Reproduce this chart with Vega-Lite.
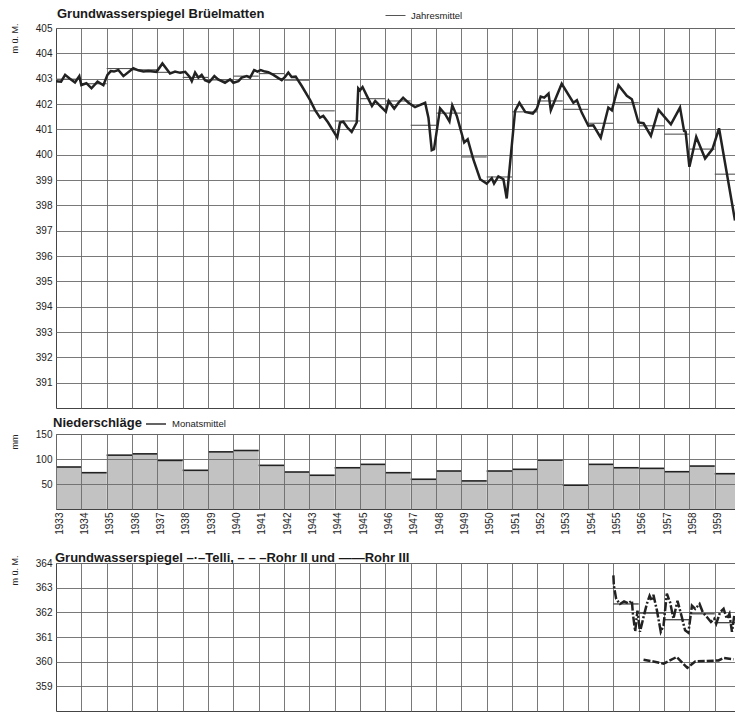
{
  "$schema": "https://vega.github.io/schema/vega-lite/v6.json",
  "background": "white",
  "padding": {"left": 9, "top": 4, "right": 0, "bottom": 3},
  "config": {
    "font": "Liberation Sans",
    "view": {"stroke": "#444444", "strokeWidth": 1},
    "axis": {"gridColor": "#6a6a6a", "gridWidth": 0.9, "gridOpacity": 1, "labelColor": "#222222", "labelFontSize": 10, "ticks": false, "domain": false, "titleColor": "#222222", "titleFontWeight": "normal", "titleFontSize": 9, "tickCount": 100, "labelOverlap": false, "format": "d"},
    "title": {"color": "#1a1a1a", "fontSize": 13, "fontWeight": "bold", "anchor": "start", "frame": "group"},
    "legend": {"labelColor": "#222222", "labelFontSize": 9.5, "symbolType": "stroke", "symbolSize": 400, "padding": 0, "labelOffset": 5}
  },
  "bounds": "flush",
  "spacing": 26,
  "resolve": {"scale": {"color": "independent", "x": "independent", "y": "independent"}, "legend": {"color": "independent"}},
  "vconcat": [
    {
      "width": 679,
      "height": 380,
      "title": {"text": "Grundwasserspiegel Brüelmatten", "offset": -16, "dx": 1},
      "layer": [
        {
          "data": {"values": [
            {"year": 1933, "end": 1934, "mean": 402.98}, {"year": 1934, "end": 1935, "mean": 402.8},
            {"year": 1935, "end": 1936, "mean": 403.4}, {"year": 1936, "end": 1937, "mean": 403.35},
            {"year": 1937, "end": 1938, "mean": 403.25}, {"year": 1938, "end": 1939, "mean": 403.05},
            {"year": 1939, "end": 1940, "mean": 402.95}, {"year": 1940, "end": 1941, "mean": 403.1},
            {"year": 1941, "end": 1942, "mean": 403.2}, {"year": 1942, "end": 1943, "mean": 402.94},
            {"year": 1943, "end": 1944, "mean": 401.73}, {"year": 1944, "end": 1945, "mean": 401.33},
            {"year": 1945, "end": 1946, "mean": 402.21}, {"year": 1946, "end": 1947, "mean": 402.12},
            {"year": 1947, "end": 1948, "mean": 401.16}, {"year": 1948, "end": 1949, "mean": 401.64},
            {"year": 1949, "end": 1950, "mean": 399.91}, {"year": 1950, "end": 1951, "mean": 399.12},
            {"year": 1951, "end": 1952, "mean": 401.69}, {"year": 1952, "end": 1953, "mean": 402.12},
            {"year": 1953, "end": 1954, "mean": 401.79}, {"year": 1954, "end": 1955, "mean": 401.24},
            {"year": 1955, "end": 1956, "mean": 402.05}, {"year": 1956, "end": 1957, "mean": 401.14},
            {"year": 1957, "end": 1958, "mean": 400.81}, {"year": 1958, "end": 1959, "mean": 400.22},
            {"year": 1959, "end": 1959.8, "mean": 399.23}
          ]},
          "mark": {"type": "rule", "strokeWidth": 1.1},
          "encoding": {
            "x": {"field": "year", "type": "quantitative", "scale": {"domain": [1933, 1959.8], "nice": false, "zero": false},
                  "axis": {"values": [1934,1935,1936,1937,1938,1939,1940,1941,1942,1943,1944,1945,1946,1947,1948,1949,1950,1951,1952,1953,1954,1955,1956,1957,1958,1959], "labels": false, "title": null}},
            "x2": {"field": "end"},
            "y": {"field": "mean", "type": "quantitative", "scale": {"domain": [390, 405], "nice": false, "zero": false},
                  "axis": {"values": [391,392,393,394,395,396,397,398,399,400,401,402,403,404,405], "labelPadding": 4, "title": "m ü. M.", "titleX": -42, "titleY": -5, "titleAlign": "right", "titleBaseline": "middle", "titleAngle": -90}},
            "color": {"datum": "Jahresmittel", "type": "nominal", "scale": {"range": ["#555555"]},
                      "legend": {"orient": "none", "legendX": 329, "legendY": -23, "direction": "horizontal", "title": null, "symbolStrokeWidth": 1}}
          }
        },
        {
          "data": {"values": [
            {"t": 1933.0, "v": 402.9}, {"t": 1933.2, "v": 402.88}, {"t": 1933.36, "v": 403.15}, {"t": 1933.55, "v": 403.0},
            {"t": 1933.75, "v": 402.85}, {"t": 1933.92, "v": 403.1}, {"t": 1934.0, "v": 402.75}, {"t": 1934.2, "v": 402.82},
            {"t": 1934.4, "v": 402.62}, {"t": 1934.64, "v": 402.88}, {"t": 1934.87, "v": 402.74}, {"t": 1935.03, "v": 403.15},
            {"t": 1935.16, "v": 403.3}, {"t": 1935.29, "v": 403.28}, {"t": 1935.46, "v": 403.34}, {"t": 1935.66, "v": 403.1},
            {"t": 1936.05, "v": 403.41}, {"t": 1936.25, "v": 403.33}, {"t": 1936.45, "v": 403.28}, {"t": 1936.65, "v": 403.3},
            {"t": 1936.97, "v": 403.27}, {"t": 1937.2, "v": 403.6}, {"t": 1937.5, "v": 403.2}, {"t": 1937.7, "v": 403.28},
            {"t": 1937.9, "v": 403.23}, {"t": 1938.1, "v": 403.27}, {"t": 1938.27, "v": 403.08}, {"t": 1938.36, "v": 402.9},
            {"t": 1938.49, "v": 403.24}, {"t": 1938.62, "v": 403.04}, {"t": 1938.75, "v": 403.15}, {"t": 1938.88, "v": 402.94},
            {"t": 1939.05, "v": 402.87}, {"t": 1939.25, "v": 403.1}, {"t": 1939.4, "v": 402.97}, {"t": 1939.67, "v": 402.84},
            {"t": 1939.87, "v": 402.97}, {"t": 1940.0, "v": 402.84}, {"t": 1940.2, "v": 402.9}, {"t": 1940.33, "v": 403.04},
            {"t": 1940.53, "v": 403.1}, {"t": 1940.66, "v": 403.04}, {"t": 1940.82, "v": 403.34}, {"t": 1940.95, "v": 403.28},
            {"t": 1941.08, "v": 403.34}, {"t": 1941.25, "v": 403.28}, {"t": 1941.38, "v": 403.26}, {"t": 1941.58, "v": 403.15},
            {"t": 1941.78, "v": 403.02}, {"t": 1941.91, "v": 402.94}, {"t": 1942.04, "v": 403.07}, {"t": 1942.17, "v": 403.24},
            {"t": 1942.3, "v": 403.07}, {"t": 1942.46, "v": 403.08}, {"t": 1942.7, "v": 402.71}, {"t": 1943.03, "v": 402.15},
            {"t": 1943.22, "v": 401.77}, {"t": 1943.42, "v": 401.46}, {"t": 1943.55, "v": 401.53}, {"t": 1943.74, "v": 401.27},
            {"t": 1943.94, "v": 400.94}, {"t": 1944.1, "v": 400.68}, {"t": 1944.21, "v": 401.27}, {"t": 1944.34, "v": 401.3},
            {"t": 1944.5, "v": 401.07}, {"t": 1944.67, "v": 400.9}, {"t": 1944.87, "v": 401.27}, {"t": 1944.93, "v": 402.62},
            {"t": 1945.0, "v": 402.54}, {"t": 1945.1, "v": 402.67}, {"t": 1945.27, "v": 402.32}, {"t": 1945.47, "v": 401.92},
            {"t": 1945.6, "v": 402.12}, {"t": 1945.8, "v": 401.92}, {"t": 1946.02, "v": 401.7}, {"t": 1946.13, "v": 402.12},
            {"t": 1946.35, "v": 401.82}, {"t": 1946.52, "v": 402.05}, {"t": 1946.7, "v": 402.25}, {"t": 1946.91, "v": 402.05},
            {"t": 1947.17, "v": 401.88}, {"t": 1947.57, "v": 402.05}, {"t": 1947.7, "v": 401.46}, {"t": 1947.83, "v": 400.18},
            {"t": 1947.92, "v": 400.22}, {"t": 1948.16, "v": 401.83}, {"t": 1948.36, "v": 401.6}, {"t": 1948.53, "v": 401.31},
            {"t": 1948.64, "v": 401.95}, {"t": 1948.82, "v": 401.53}, {"t": 1949.11, "v": 400.48}, {"t": 1949.25, "v": 400.61},
            {"t": 1949.47, "v": 399.82}, {"t": 1949.74, "v": 399.03}, {"t": 1950.0, "v": 398.86}, {"t": 1950.2, "v": 399.07},
            {"t": 1950.29, "v": 398.86}, {"t": 1950.46, "v": 399.14}, {"t": 1950.66, "v": 399.03}, {"t": 1950.79, "v": 398.27},
            {"t": 1951.12, "v": 401.73}, {"t": 1951.29, "v": 402.05}, {"t": 1951.52, "v": 401.69}, {"t": 1951.82, "v": 401.62},
            {"t": 1951.98, "v": 401.82}, {"t": 1952.13, "v": 402.29}, {"t": 1952.27, "v": 402.25}, {"t": 1952.44, "v": 402.41},
            {"t": 1952.53, "v": 401.75}, {"t": 1952.96, "v": 402.8}, {"t": 1953.42, "v": 402.05}, {"t": 1953.56, "v": 402.15},
            {"t": 1953.75, "v": 401.66}, {"t": 1954.01, "v": 401.14}, {"t": 1954.21, "v": 401.16}, {"t": 1954.5, "v": 400.67},
            {"t": 1954.8, "v": 401.86}, {"t": 1954.94, "v": 401.75}, {"t": 1955.2, "v": 402.74}, {"t": 1955.53, "v": 402.32},
            {"t": 1955.73, "v": 402.19}, {"t": 1955.99, "v": 401.27}, {"t": 1956.19, "v": 401.24}, {"t": 1956.48, "v": 400.74},
            {"t": 1956.78, "v": 401.77}, {"t": 1957.27, "v": 401.2}, {"t": 1957.63, "v": 401.86}, {"t": 1957.79, "v": 400.94},
            {"t": 1957.85, "v": 400.91}, {"t": 1958.0, "v": 399.52}, {"t": 1958.27, "v": 400.7}, {"t": 1958.62, "v": 399.85},
            {"t": 1958.91, "v": 400.22}, {"t": 1959.17, "v": 401.04}, {"t": 1959.8, "v": 397.4}
          ]},
          "mark": {"type": "line", "strokeWidth": 2.5, "color": "#222222", "clip": true},
          "encoding": {
            "x": {"field": "t", "type": "quantitative"},
            "y": {"field": "v", "type": "quantitative"}
          }
        }
      ]
    },
    {
      "bounds": "flush",
      "spacing": 54,
      "resolve": {"scale": {"color": "independent", "x": "independent", "y": "independent"}, "legend": {"color": "independent"}},
      "vconcat": [
        {
          "width": 679,
          "height": 75,
          "title": {"text": "Niederschläge", "offset": -17, "dx": -3},
          "data": {"values": [
            {"year": 1933, "end": 1934, "mm": 84}, {"year": 1934, "end": 1935, "mm": 72.6},
            {"year": 1935, "end": 1936, "mm": 107.7}, {"year": 1936, "end": 1937, "mm": 110.3},
            {"year": 1937, "end": 1938, "mm": 97.2}, {"year": 1938, "end": 1939, "mm": 77.4},
            {"year": 1939, "end": 1940, "mm": 114.3}, {"year": 1940, "end": 1941, "mm": 117},
            {"year": 1941, "end": 1942, "mm": 87.3}, {"year": 1942, "end": 1943, "mm": 74},
            {"year": 1943, "end": 1944, "mm": 67.5}, {"year": 1944, "end": 1945, "mm": 82.5},
            {"year": 1945, "end": 1946, "mm": 89.3}, {"year": 1946, "end": 1947, "mm": 72.6},
            {"year": 1947, "end": 1948, "mm": 59.5}, {"year": 1948, "end": 1949, "mm": 76},
            {"year": 1949, "end": 1950, "mm": 56.2}, {"year": 1950, "end": 1951, "mm": 76},
            {"year": 1951, "end": 1952, "mm": 79.4}, {"year": 1952, "end": 1953, "mm": 97.8},
            {"year": 1953, "end": 1954, "mm": 47.6}, {"year": 1954, "end": 1955, "mm": 89.3},
            {"year": 1955, "end": 1956, "mm": 82.5}, {"year": 1956, "end": 1957, "mm": 81.3},
            {"year": 1957, "end": 1958, "mm": 74.6}, {"year": 1958, "end": 1959, "mm": 85.9},
            {"year": 1959, "end": 1959.8, "mm": 70.6}
          ]},
          "layer": [
            {
              "mark": {"type": "rect", "fill": "#c2c2c2"},
              "encoding": {
                "x": {"field": "year", "type": "quantitative", "scale": {"domain": [1933, 1959.8], "nice": false, "zero": false},
                      "axis": {"values": [1933,1934,1935,1936,1937,1938,1939,1940,1941,1942,1943,1944,1945,1946,1947,1948,1949,1950,1951,1952,1953,1954,1955,1956,1957,1958,1959], "labelAngle": 270, "labelAlign": "right", "labelBaseline": "middle", "labelOffset": 3, "labelPadding": 3, "title": null, "zindex": 1}},
                "x2": {"field": "end"},
                "y": {"field": "mm", "type": "quantitative", "scale": {"domain": [0, 150], "nice": false},
                      "axis": {"values": [50, 100, 150], "labelPadding": 4, "title": "mm", "titleX": -42, "titleY": 0, "titleAlign": "right", "titleBaseline": "middle", "titleAngle": -90, "zindex": 1}},
                "y2": {"datum": 0}
              }
            },
            {
              "mark": {"type": "rule", "strokeWidth": 1.6},
              "encoding": {
                "x": {"field": "year", "type": "quantitative"},
                "x2": {"field": "end"},
                "y": {"field": "mm", "type": "quantitative"},
                "color": {"datum": "Monatsmittel", "type": "nominal", "scale": {"range": ["#222222"]},
                          "legend": {"orient": "none", "legendX": 89, "legendY": -21, "direction": "horizontal", "title": null, "symbolStrokeWidth": 1.4}}
              }
            }
          ]
        },
        {
          "width": 679,
          "height": 148,
          "title": {"text": "Grundwasserspiegel  –·–Telli,  – – –Rohr II und  ——Rohr III", "offset": -10, "dx": -1},
          "layer": [
            {
              "data": {"values": [
                {"year": 1955, "end": 1956, "mean": 362.34}, {"year": 1956, "end": 1957, "mean": 361.97},
                {"year": 1957, "end": 1958, "mean": 361.7}, {"year": 1958, "end": 1959, "mean": 361.94},
                {"year": 1959, "end": 1959.8, "mean": 361.58}
              ]},
              "mark": {"type": "rule", "strokeWidth": 1.2, "color": "#333333"},
              "encoding": {
                "x": {"field": "year", "type": "quantitative", "scale": {"domain": [1933, 1959.8], "nice": false, "zero": false},
                      "axis": {"values": [1934,1935,1936,1937,1938,1939,1940,1941,1942,1943,1944,1945,1946,1947,1948,1949,1950,1951,1952,1953,1954,1955,1956,1957,1958,1959], "labels": false, "title": null}},
                "x2": {"field": "end"},
                "y": {"field": "mean", "type": "quantitative", "scale": {"domain": [358, 364], "nice": false, "zero": false},
                      "axis": {"values": [359, 360, 361, 362, 363, 364], "labelPadding": 4, "title": "m ü. M.", "titleX": -42, "titleY": -8, "titleAlign": "right", "titleBaseline": "middle", "titleAngle": -90}}
              }
            },
            {
              "data": {"values": [
                {"t": 1955.0, "v": 363.5, "serie": "Telli"}, {"t": 1955.02, "v": 363.07, "serie": "Telli"},
                {"t": 1955.11, "v": 362.54, "serie": "Telli"}, {"t": 1955.26, "v": 362.34, "serie": "Telli"},
                {"t": 1955.42, "v": 362.44, "serie": "Telli"}, {"t": 1955.59, "v": 362.36, "serie": "Telli"},
                {"t": 1955.73, "v": 362.47, "serie": "Telli"}, {"t": 1955.77, "v": 361.94, "serie": "Telli"},
                {"t": 1955.86, "v": 361.23, "serie": "Telli"}, {"t": 1955.95, "v": 362.07, "serie": "Telli"},
                {"t": 1956.05, "v": 361.21, "serie": "Telli"}, {"t": 1956.19, "v": 361.81, "serie": "Telli"},
                {"t": 1956.32, "v": 362.34, "serie": "Telli"}, {"t": 1956.43, "v": 362.67, "serie": "Telli"},
                {"t": 1956.52, "v": 362.47, "serie": "Telli"}, {"t": 1956.58, "v": 362.71, "serie": "Telli"},
                {"t": 1956.72, "v": 362.07, "serie": "Telli"}, {"t": 1956.87, "v": 361.21, "serie": "Telli"},
                {"t": 1956.98, "v": 361.47, "serie": "Telli"}, {"t": 1957.11, "v": 362.76, "serie": "Telli"},
                {"t": 1957.24, "v": 362.4, "serie": "Telli"}, {"t": 1957.37, "v": 361.74, "serie": "Telli"},
                {"t": 1957.53, "v": 362.47, "serie": "Telli"}, {"t": 1957.7, "v": 361.81, "serie": "Telli"},
                {"t": 1957.83, "v": 361.27, "serie": "Telli"}, {"t": 1957.96, "v": 361.17, "serie": "Telli"},
                {"t": 1958.1, "v": 362.27, "serie": "Telli"}, {"t": 1958.23, "v": 362.14, "serie": "Telli"},
                {"t": 1958.4, "v": 362.34, "serie": "Telli"}, {"t": 1958.53, "v": 362.0, "serie": "Telli"},
                {"t": 1958.69, "v": 361.81, "serie": "Telli"}, {"t": 1958.85, "v": 361.61, "serie": "Telli"},
                {"t": 1958.98, "v": 361.74, "serie": "Telli"}, {"t": 1959.06, "v": 361.54, "serie": "Telli"},
                {"t": 1959.21, "v": 362.0, "serie": "Telli"}, {"t": 1959.35, "v": 362.14, "serie": "Telli"},
                {"t": 1959.48, "v": 361.74, "serie": "Telli"}, {"t": 1959.58, "v": 361.94, "serie": "Telli"},
                {"t": 1959.68, "v": 361.21, "serie": "Telli"}, {"t": 1959.78, "v": 361.94, "serie": "Telli"},
                {"t": 1956.19, "v": 360.08, "serie": "Rohr II"}, {"t": 1956.58, "v": 360.01, "serie": "Rohr II"},
                {"t": 1956.98, "v": 359.92, "serie": "Rohr II"}, {"t": 1957.5, "v": 360.19, "serie": "Rohr II"},
                {"t": 1957.92, "v": 359.75, "serie": "Rohr II"}, {"t": 1958.23, "v": 360.01, "serie": "Rohr II"},
                {"t": 1958.69, "v": 360.03, "serie": "Rohr II"}, {"t": 1959.15, "v": 360.05, "serie": "Rohr II"},
                {"t": 1959.35, "v": 360.15, "serie": "Rohr II"}, {"t": 1959.74, "v": 360.1, "serie": "Rohr II"}
              ]},
              "mark": {"type": "line", "strokeWidth": 2.5, "color": "#222222", "clip": true},
              "encoding": {
                "x": {"field": "t", "type": "quantitative"},
                "y": {"field": "v", "type": "quantitative"},
                "strokeDash": {"field": "serie", "type": "nominal", "scale": {"domain": ["Telli", "Rohr II"], "range": [[9, 2, 2, 2], [7, 2]]}, "legend": null}
              }
            }
          ]
        }
      ]
    }
  ]
}
